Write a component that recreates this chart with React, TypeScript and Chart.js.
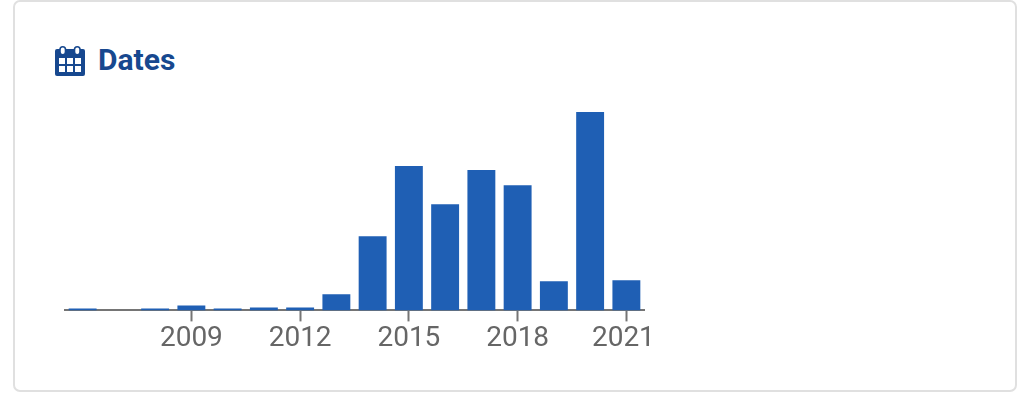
import React, { useEffect, useRef } from "react";
import { Chart, registerables } from "chart.js";

Chart.register(...registerables);

const years = ["2006","2007","2008","2009","2010","2011","2012","2013","2014","2015","2016","2017","2018","2019","2020","2021"];
const counts = [2, 0, 2, 5, 2, 3, 3, 16, 74, 144, 106, 140, 125, 29, 198, 30];
const labelledYears = ["2009", "2012", "2015", "2018", "2021"];

const BAR = "#1f5fb4";
const AXIS = "#757575";
const LABEL = "#666666";
const TITLE = "#17488f";

const nudgeLastLabel = {
  id: "nudgeLastLabel",
  beforeDraw(chart: any) {
    const items = chart.scales.x.getLabelItems();
    for (const item of items) {
      if (item.label === "2021") {
        const t = item.options.translation;
        item.options.translation = [t[0] - 3, t[1]];
      }
    }
  },
};

function CalendarIcon() {
  const cells: React.ReactElement[] = [];
  for (let r = 0; r < 2; r++) {
    for (let c = 0; c < 3; c++) {
      cells.push(<rect key={r + "-" + c} x={4 + c * 8} y={12 + r * 8} width={6} height={6} fill="#fff" />);
    }
  }
  return (
    <svg width={30} height={30} viewBox="0 0 30 30" style={{ position: "absolute", left: 55, top: 46 }}>
      <rect x={0} y={3} width={30} height={27} rx={2} fill={TITLE} />
      <rect x={5} y={0.8} width={5.5} height={8} rx={2.7} fill="#fff" stroke={TITLE} strokeWidth={1.6} />
      <rect x={19.5} y={0.8} width={5.5} height={8} rx={2.7} fill="#fff" stroke={TITLE} strokeWidth={1.6} />
      {cells}
    </svg>
  );
}

export default function App() {
  const ref = useRef<HTMLCanvasElement | null>(null);

  useEffect(() => {
    if (!ref.current) return;
    const chart = new Chart(ref.current, {
      type: "bar",
      plugins: [nudgeLastLabel],
      data: {
        labels: years,
        datasets: [{ data: counts, backgroundColor: BAR, barPercentage: 0.77, categoryPercentage: 1 }],
      },
      options: {
        animation: false,
        responsive: false,
        maintainAspectRatio: false,
        layout: { padding: { left: 64.5, right: 55.5, top: 11, bottom: 0 } },
        plugins: { legend: { display: false }, tooltip: { enabled: false }, title: { display: false } },
        scales: {
          y: { display: false, min: 0, max: 198 },
          x: {
            offset: true,
            border: { display: true, color: AXIS, width: 2 },
            grid: {
              offset: false,
              drawOnChartArea: false,
              drawTicks: true,
              tickLength: 11,
              tickWidth: 2,
              tickColor: (ctx: any) =>
                labelledYears.includes(years[ctx.index]) ? AXIS : "rgba(0,0,0,0)",
            },
            ticks: {
              autoSkip: false,
              maxRotation: 0,
              minRotation: 0,
              padding: 1,
              color: LABEL,
              font: { family: "Roboto", size: 28, weight: "normal" },
              callback: (_v: any, i: number) => (labelledYears.includes(years[i]) ? years[i] : ""),
            },
          },
        },
      },
    } as any);
    return () => chart.destroy();
  }, []);

  return (
    <div style={{ position: "absolute", left: 0, top: 0, width: 1019, height: 402, background: "#fff", overflow: "hidden" }}>
      <div
        style={{
          position: "absolute",
          left: 13,
          top: 0,
          width: 1004,
          height: 392,
          boxSizing: "border-box",
          border: "2px solid #e0e0e0",
          borderRadius: 7,
        }}
      />
      <CalendarIcon />
      <div
        style={{
          position: "absolute",
          left: 98,
          top: 42,
          fontFamily: "Roboto",
          fontWeight: 700,
          fontSize: 30,
          lineHeight: "36px",
          color: TITLE,
        }}
      >
        Dates
      </div>
      <canvas ref={ref} width={700} height={256} style={{ position: "absolute", left: 0, top: 101, width: 700, height: 256 }} />
    </div>
  );
}
